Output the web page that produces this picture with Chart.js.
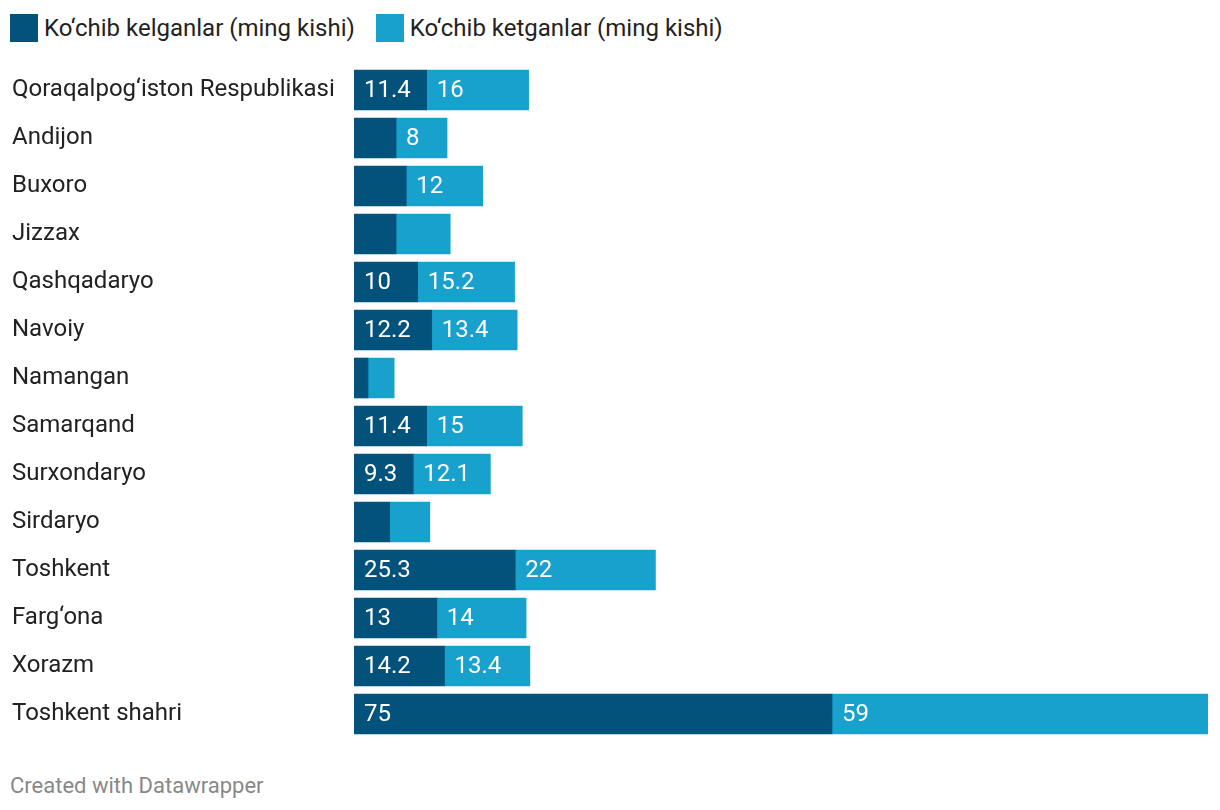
<!DOCTYPE html>
<html>
<head>
<meta charset="utf-8">
<script src="https://cdn.jsdelivr.net/npm/chart.js@4"></script>
<style>
  html, body { margin: 0; padding: 0; background: #fff; }
  body { width: 1220px; height: 810px; position: relative; overflow: hidden; font-family: Roboto, sans-serif; }
  .legend { position: absolute; top: 14px; left: 10px; display: flex; align-items: center; font-size: 24px; color: #222; }
  .legend span.box { display: inline-block; width: 28px; height: 28px; margin-right: 6px; }
  .legend .item { display: flex; align-items: center; margin-right: 21px; height: 28px; }
  #wrap { position: absolute; left: 0; top: 66px; width: 1220px; height: 672px; }
  .footer { position: absolute; left: 10px; top: 773px; font-size: 22px; color: #888; }
</style>
</head>
<body>
<div class="legend">
  <div class="item"><span class="box" style="background:#03527b"></span>Ko‘chib kelganlar (ming kishi)</div>
  <div class="item"><span class="box" style="background:#18a1cd"></span>Ko‘chib ketganlar (ming kishi)</div>
</div>
<div id="wrap"><canvas id="grafico"></canvas></div>
<div class="footer">Created with Datawrapper</div>
<script>
const viloyatlar = [
  'Qoraqalpog‘iston Respublikasi', 'Andijon', 'Buxoro', 'Jizzax', 'Qashqadaryo',
  'Navoiy', 'Namangan', 'Samarqand', 'Surxondaryo', 'Sirdaryo',
  'Toshkent', 'Farg‘ona', 'Xorazm', 'Toshkent shahri'
];
const kelganlar = [11.4, 6.6, 8.2, 6.6, 10, 12.2, 2.2, 11.4, 9.3, 5.6, 25.3, 13, 14.2, 75];
const ketganlar = [16, 8, 12, 8.5, 15.2, 13.4, 4.1, 15, 12.1, 6.3, 22, 14, 13.4, 59];
const seriyaNomlari = ['Ko‘chib kelganlar (ming kishi)', 'Ko‘chib ketganlar (ming kishi)'];
const CORES = ['#03527b', '#18a1cd'];

// rotulos dentro das barras, so quando cabem
const rotulosPlugin = {
  id: 'rotulos',
  afterDatasetsDraw(chart) {
    const ctx = chart.ctx;
    ctx.save();
    ctx.font = '24px Roboto, sans-serif';
    ctx.fillStyle = '#fff';
    ctx.textBaseline = 'middle';
    ctx.textAlign = 'left';
    chart.data.datasets.forEach((ds, i) => {
      chart.getDatasetMeta(i).data.forEach((bar, j) => {
        const txt = String(ds.data[j]);
        const left = Math.min(bar.x, bar.base);
        const largura = Math.abs(bar.x - bar.base);
        if (ctx.measureText(txt).width + 22 > largura) return;
        ctx.fillText(txt, left + 10, bar.y + 1);
      });
    });
    ctx.restore();
  }
};

new Chart(document.getElementById('grafico'), {
  type: 'bar',
  data: {
    labels: viloyatlar,
    datasets: [
      { label: seriyaNomlari[0], data: kelganlar, backgroundColor: CORES[0] },
      { label: seriyaNomlari[1], data: ketganlar, backgroundColor: CORES[1] }
    ]
  },
  options: {
    indexAxis: 'y',
    responsive: true,
    maintainAspectRatio: false,
    animation: false,
    layout: { padding: { left: 12, right: 12, top: 0, bottom: 0 } },
    datasets: { bar: { barThickness: 40, borderWidth: 0 } },
    plugins: { legend: { display: false }, tooltip: { enabled: false } },
    scales: {
      x: { stacked: true, min: 0, max: 134, display: false },
      y: {
        stacked: true,
        grid: { display: false },
        border: { display: false },
        afterFit(axis) {
          axis.width = 342;
          axis.paddingTop = 0;
          axis.paddingBottom = 0;
        },
        ticks: {
          crossAlign: 'far',
          color: '#222',
          padding: 0,
          font: { family: 'Roboto', size: 24 }
        }
      }
    }
  },
  plugins: [rotulosPlugin]
});
</script>
</body>
</html>
